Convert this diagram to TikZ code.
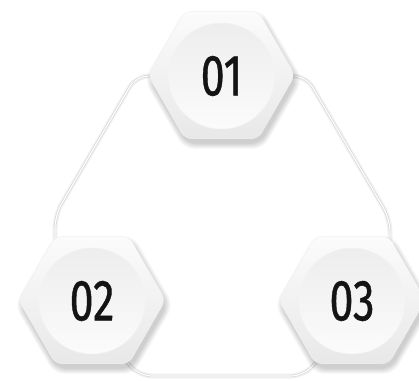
\documentclass[tikz,border=0pt]{standalone}
\usepackage{fontspec}
\newfontfamily\digitfont{Fira Sans}[FakeBold=0.9]
\usetikzlibrary{calc}
\tikzset{
  linkshadow/.style={line width=5pt, draw=black, opacity=0.05, line cap=round, rounded corners=13pt},
  linkedge/.style={line width=2.4pt, draw=gray!32, line cap=round, rounded corners=13pt},
  linkcore/.style={line width=1.1pt, draw=white, line cap=round, rounded corners=13pt},
  hexbody/.style={rounded corners=7pt, top color=gray!3, bottom color=gray!18, draw=gray!10, line width=0.4pt},
  disc/.style={circle, minimum size=106pt, inner sep=0pt, top color=gray!14, bottom color=gray!3, draw=gray!9, line width=0.5pt, font=\digitfont\fontsize{58}{58}\selectfont, text=black!92},
}
\newcommand\hexpath{(73.5,0) -- (36.75,63.65) -- (-36.75,63.65) -- (-73.5,0) -- (-36.75,-63.65) -- (36.75,-63.65) -- cycle}
\newcommand\hexat[4]{%
  \begin{scope}[shift={(#1,#2)}]
    \foreach \k in {0,...,7}{
      \fill[black, opacity=0.022, rounded corners=10pt, shift={(2,-5)}, scale=1+0.012*\k] \hexpath;
    }
    \path[hexbody] \hexpath;
  \end{scope}
  \node[disc] (#3) at (#1,#2-1) {\scalebox{0.74}[1]{#4}};
}
\begin{document}
\begin{tikzpicture}[x=1pt,y=1pt]
\useasboundingbox[fill=white] (0,0) rectangle (419,380);
% anchor coordinates on the hexagon corners
\coordinate (t1L) at (150,304);
\coordinate (t1R) at (293,304);
\coordinate (b2T) at (55,140);
\coordinate (b2R) at (125,20);
\coordinate (b3T) at (390,140);
\coordinate (b3L) at (318,20);
% connectors
\foreach \st in {linkshadow,linkedge,linkcore}{
  \draw[\st] (t1L) -- (136,304) -- (55,165) -- (b2T);
  \draw[\st] (t1R) -- (306,304) -- (390,161) -- (b3T);
  \draw[\st] (b2R) -- (139,4) -- (304,4) -- (b3L);
}
% hexagons
\hexat{221.5}{305}{n1}{01}
\hexat{92}{80}{n2}{02}
\hexat{352}{80}{n3}{03}
\end{tikzpicture}
\end{document}
